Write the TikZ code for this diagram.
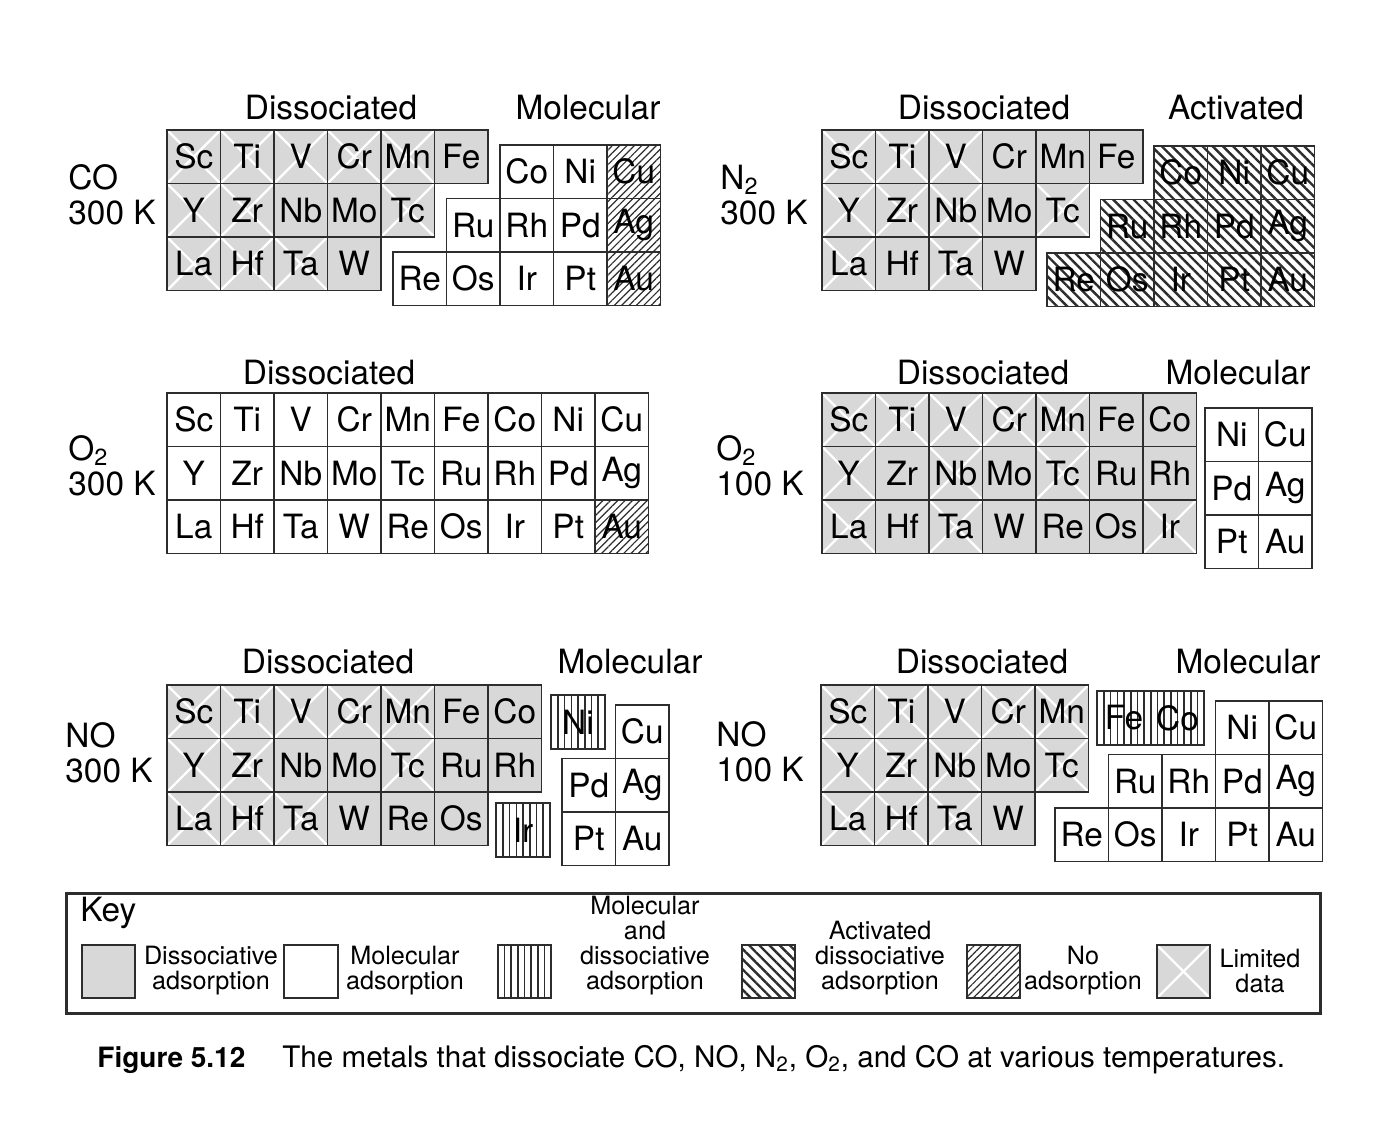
\documentclass[tikz,border=0pt]{standalone}
\usepackage{fontspec}
\setmainfont{TeX Gyre Heros}
\usetikzlibrary{patterns.meta}
\definecolor{ink}{RGB}{45,45,45}
\definecolor{disgray}{RGB}{216,216,216}
\newcommand\cellfont{\fontsize{16.7pt}{17.5pt}\selectfont}
\newcommand\keyfont{\fontsize{12.6pt}{12.5pt}\selectfont}
\newcommand\capfont{\fontsize{14pt}{16pt}\selectfont}

\begin{document}
\begin{tikzpicture}[x=0.5pt,y=-0.5pt,font=\cellfont,every node/.style={align=center},
    cell/.style={draw=ink,line width=0.9pt,minimum size=26.75pt,inner sep=0pt,outer sep=0pt},
    dis/.style={cell,fill=disgray},
    lim/.style={dis,path picture={\draw[white,line width=1.1pt] (path picture bounding box.north west)--(path picture bounding box.south east) (path picture bounding box.north east)--(path picture bounding box.south west);}},
    mol/.style={cell,fill=white},
    mix/.style={cell,fill=white,path picture={\foreach \i in {1,...,7} \draw[ink,line width=0.8pt] ([xshift=\i*3.35pt]path picture bounding box.north west)--([xshift=\i*3.35pt]path picture bounding box.south west);}},
    act/.style={cell,pattern={Lines[angle=-45,distance=3.6pt,line width=1.2pt]},pattern color=ink},
    nad/.style={cell,pattern={Lines[angle=45,distance=2.6pt,line width=0.6pt]},pattern color=ink},
    gas/.style={anchor=west,align=left,inner sep=0pt},
    keytext/.style={font=\keyfont}]
    \useasboundingbox[fill=white] (0,0) rectangle (1376,1133);

    \node[gas] (co-gas) at (68,195) {CO\\300 K};
    \node (co-hd-dis) at (331,108) {Dissociated}; \node (co-hd-mol) at (588,108) {Molecular};
    \begin{scope}[shift={(167,130)},x=26.75pt,y=-26.75pt]
      \foreach \el/\c/\r/\s in {Sc/0/0/lim,Ti/1/0/lim,V/2/0/lim,Cr/3/0/lim,Mn/4/0/lim,Fe/5/0/dis,
          Y/0/1/lim,Zr/1/1/lim,Nb/2/1/dis,Mo/3/1/dis,Tc/4/1/lim,La/0/2/lim,Hf/1/2/lim,Ta/2/2/lim,W/3/2/dis}
        \node[\s] (co-\el) at (\c+.5,\r+.5) {\el};
    \end{scope}
    \begin{scope}[shift={(179,145)},x=26.75pt,y=-26.75pt]
      \foreach \el/\c/\r/\s in {Co/6/0/mol,Ni/7/0/mol,Cu/8/0/nad,Ru/5/1/mol,Rh/6/1/mol,Pd/7/1/mol,Ag/8/1/nad,
          Re/4/2/mol,Os/5/2/mol,Ir/6/2/mol,Pt/7/2/mol,Au/8/2/nad}
        \node[\s] (co-\el) at (\c+.5,\r+.5) {\el};
    \end{scope}

    \node[gas] (nn-gas) at (720,195) {N\textsubscript{2}\\300 K};
    \node (nn-hd-dis) at (984,108) {Dissociated}; \node (nn-hd-act) at (1236,108) {Activated};
    \begin{scope}[shift={(822,130)},x=26.75pt,y=-26.75pt]
      \foreach \el/\c/\r/\s in {Sc/0/0/lim,Ti/1/0/lim,V/2/0/lim,Cr/3/0/dis,Mn/4/0/dis,Fe/5/0/dis,
          Y/0/1/lim,Zr/1/1/lim,Nb/2/1/lim,Mo/3/1/dis,Tc/4/1/lim,La/0/2/lim,Hf/1/2/dis,Ta/2/2/lim,W/3/2/dis}
        \node[\s] (nn-\el) at (\c+.5,\r+.5) {\el};
    \end{scope}
    \begin{scope}[shift={(833,146)},x=26.75pt,y=-26.75pt]
      \foreach \el/\c/\r in {Co/6/0,Ni/7/0,Cu/8/0,Ru/5/1,Rh/6/1,Pd/7/1,Ag/8/1,Re/4/2,Os/5/2,Ir/6/2,Pt/7/2,Au/8/2}
        \node[act] (nn-\el) at (\c+.5,\r+.5) {\el};
    \end{scope}

    \node[gas] (oa-gas) at (68,466) {O\textsubscript{2}\\300 K};
    \node (oa-hd-dis) at (329,373) {Dissociated};
    \begin{scope}[shift={(167,393)},x=26.75pt,y=-26.75pt]
      \foreach \el/\c/\r/\s in {Sc/0/0/mol,Ti/1/0/mol,V/2/0/mol,Cr/3/0/mol,Mn/4/0/mol,Fe/5/0/mol,Co/6/0/mol,Ni/7/0/mol,Cu/8/0/mol,
          Y/0/1/mol,Zr/1/1/mol,Nb/2/1/mol,Mo/3/1/mol,Tc/4/1/mol,Ru/5/1/mol,Rh/6/1/mol,Pd/7/1/mol,Ag/8/1/mol,
          La/0/2/mol,Hf/1/2/mol,Ta/2/2/mol,W/3/2/mol,Re/4/2/mol,Os/5/2/mol,Ir/6/2/mol,Pt/7/2/mol,Au/8/2/nad}
        \node[\s] (oa-\el) at (\c+.5,\r+.5) {\el};
    \end{scope}

    \node[gas] (ob-gas) at (716,466) {O\textsubscript{2}\\100 K};
    \node (ob-hd-dis) at (983,373) {Dissociated}; \node (ob-hd-mol) at (1238,373) {Molecular};
    \begin{scope}[shift={(822,393)},x=26.75pt,y=-26.75pt]
      \foreach \el/\c/\r/\s in {Sc/0/0/lim,Ti/1/0/lim,V/2/0/lim,Cr/3/0/lim,Mn/4/0/lim,Fe/5/0/dis,Co/6/0/dis,
          Y/0/1/lim,Zr/1/1/dis,Nb/2/1/lim,Mo/3/1/dis,Tc/4/1/lim,Ru/5/1/dis,Rh/6/1/dis,
          La/0/2/lim,Hf/1/2/dis,Ta/2/2/lim,W/3/2/dis,Re/4/2/dis,Os/5/2/dis,Ir/6/2/lim}
        \node[\s] (ob-\el) at (\c+.5,\r+.5) {\el};
    \end{scope}
    \begin{scope}[shift={(830.5,408)},x=26.75pt,y=-26.75pt]
      \foreach \el/\c/\r in {Ni/7/0,Cu/8/0,Pd/7/1,Ag/8/1,Pt/7/2,Au/8/2}
        \node[mol] (ob-\el) at (\c+.5,\r+.5) {\el};
    \end{scope}

    \node[gas] (na-gas) at (65,753) {NO\\300 K};
    \node (na-hd-dis) at (328,662) {Dissociated}; \node (na-hd-mol) at (630,662) {Molecular};
    \begin{scope}[shift={(167,685)},x=26.75pt,y=-26.75pt]
      \foreach \el/\c/\r/\s in {Sc/0/0/lim,Ti/1/0/lim,V/2/0/lim,Cr/3/0/lim,Mn/4/0/lim,Fe/5/0/dis,Co/6/0/dis,
          Y/0/1/lim,Zr/1/1/lim,Nb/2/1/dis,Mo/3/1/dis,Tc/4/1/lim,Ru/5/1/dis,Rh/6/1/dis,
          La/0/2/lim,Hf/1/2/lim,Ta/2/2/lim,W/3/2/dis,Re/4/2/dis,Os/5/2/dis}
        \node[\s] (na-\el) at (\c+.5,\r+.5) {\el};
    \end{scope}
    \node[mix] (na-Ni) at (578,722) {Ni}; \node[mix] (na-Ir) at (523,830) {Ir};
    \begin{scope}[shift={(187.5,705)},x=26.75pt,y=-26.75pt]
      \foreach \el/\c/\r in {Cu/8/0,Pd/7/1,Ag/8/1,Pt/7/2,Au/8/2}
        \node[mol] (na-\el) at (\c+.5,\r+.5) {\el};
    \end{scope}

    \node[gas] (nb-gas) at (716,752) {NO\\100 K};
    \node (nb-hd-dis) at (982,662) {Dissociated}; \node (nb-hd-mol) at (1248,662) {Molecular};
    \begin{scope}[shift={(821,685)},x=26.75pt,y=-26.75pt]
      \foreach \el/\c/\r/\s in {Sc/0/0/lim,Ti/1/0/lim,V/2/0/lim,Cr/3/0/lim,Mn/4/0/lim,
          Y/0/1/lim,Zr/1/1/lim,Nb/2/1/lim,Mo/3/1/dis,Tc/4/1/lim,La/0/2/lim,Hf/1/2/lim,Ta/2/2/lim,W/3/2/dis}
        \node[\s] (nb-\el) at (\c+.5,\r+.5) {\el};
    \end{scope}
    \node[mix] (nb-Fe) at (1124,718) {Fe}; \node[mix] (nb-Co) at (1177.5,718) {Co};
    \begin{scope}[shift={(841,701)},x=26.75pt,y=-26.75pt]
      \foreach \el/\c/\r in {Ni/7/0,Cu/8/0,Ru/5/1,Rh/6/1,Pd/7/1,Ag/8/1,Re/4/2,Os/5/2,Ir/6/2,Pt/7/2,Au/8/2}
        \node[mol] (nb-\el) at (\c+.5,\r+.5) {\el};
    \end{scope}

    \node[draw=ink,line width=1.5pt,minimum width=627pt,minimum height=60pt,inner sep=0pt] (keybox) at (693,953) {};
    \node[anchor=west,inner sep=0pt] (key-title) at (80,913) {Key};
    \node[dis] (key-dis) at (108.5,971.5) {}; \node[keytext] (key-dis-txt) at (211,970.5) {Dissociative\\adsorption};
    \node[mol] (key-mol) at (311,971.5) {}; \node[keytext] (key-mol-txt) at (405,970.5) {Molecular\\adsorption};
    \node[mix] (key-mix) at (524.5,971.5) {}; \node[keytext] (key-mix-txt) at (645,945.5) {Molecular\\and\\dissociative\\adsorption};
    \node[act] (key-act) at (768.5,971.5) {}; \node[keytext] (key-act-txt) at (880,958) {Activated\\dissociative\\adsorption};
    \node[nad] (key-nad) at (993.5,971.5) {}; \node[keytext] (key-nad-txt) at (1083,970.5) {No\\adsorption};
    \node[lim] (key-lim) at (1183.5,971.5) {}; \node[keytext] (key-lim-txt) at (1260,970.5) {Limited\\data};

    \node[anchor=base west,inner sep=0pt,font=\capfont\bfseries] (fig-num) at (97,1067) {Figure 5.12};
    \node[anchor=base west,inner sep=0pt,font=\fontsize{14.8pt}{16pt}\selectfont] (fig-txt) at (282,1067) {The metals that dissociate CO, NO, N\textsubscript{2}, O\textsubscript{2}, and CO at various temperatures.};
\end{tikzpicture}
\end{document}
